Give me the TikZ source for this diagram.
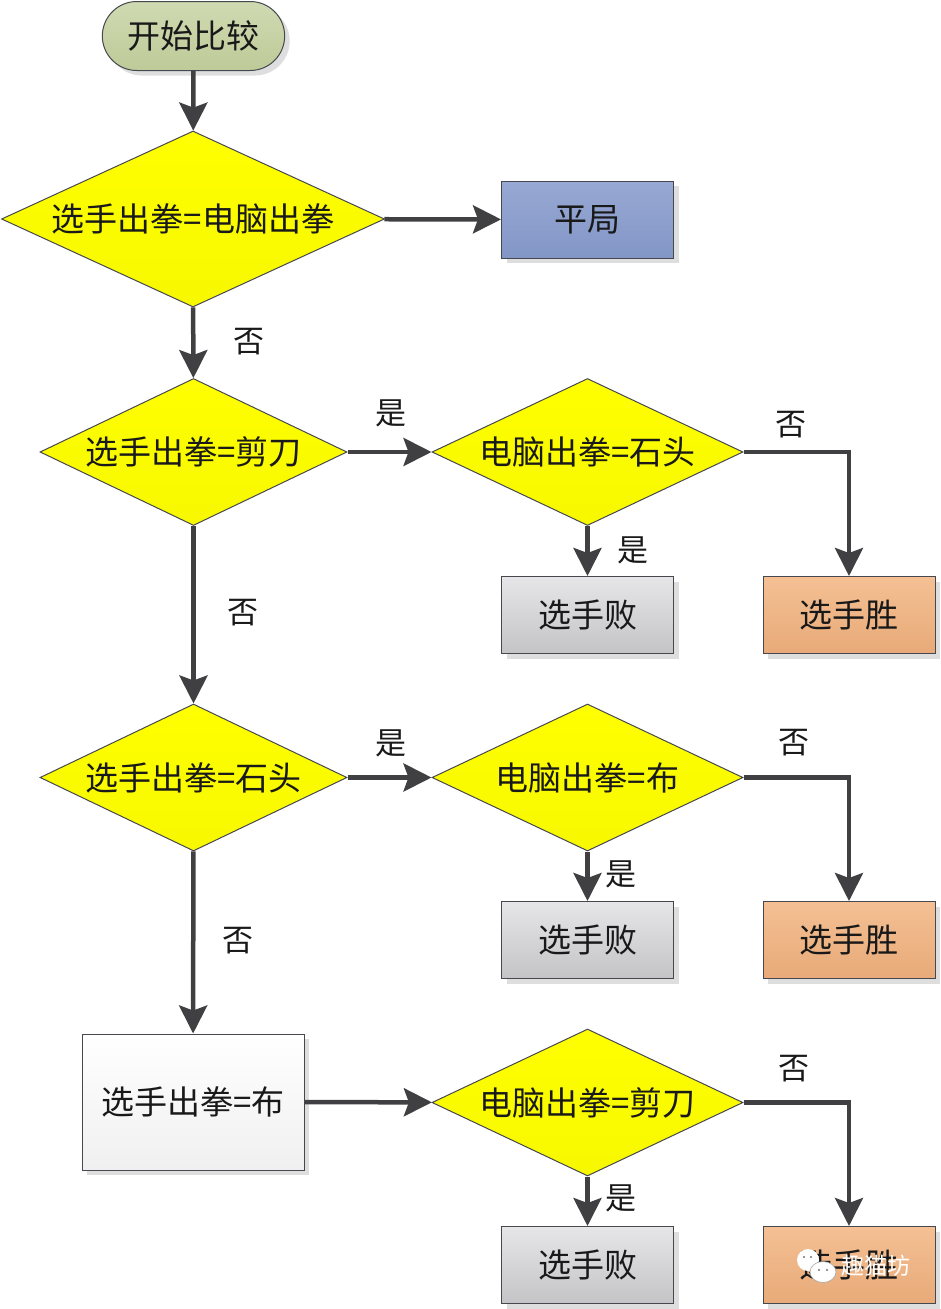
\documentclass[tikz,border=0pt]{standalone}
\usepackage{fontspec}
\setmainfont{Noto Sans CJK SC}
\usetikzlibrary{arrows.meta,shapes.geometric,shapes.misc,shadows}
\definecolor{cmpline}{RGB}{64,64,66}
\definecolor{cmpedge}{RGB}{70,72,80}
\definecolor{cmpyellow}{RGB}{255,255,0}
\definecolor{cmpoliveA}{RGB}{208,218,178}
\definecolor{cmpoliveB}{RGB}{190,202,152}
\definecolor{cmpblueA}{RGB}{152,168,212}
\definecolor{cmpblueB}{RGB}{130,150,198}
\definecolor{cmpgreyA}{RGB}{230,230,232}
\definecolor{cmpgreyB}{RGB}{196,196,198}
\definecolor{cmporangeA}{RGB}{244,192,148}
\definecolor{cmporangeB}{RGB}{232,170,120}
\tikzstyle{arrow} = [line width=4.5pt,-{Stealth[length=28pt,width=28pt,inset=5pt]},color=cmpline]
\tikzstyle{boxshadow} = [drop shadow={shadow xshift=5pt,shadow yshift=-5pt,fill=black!13,opacity=1}]
\tikzstyle{txt} = [font=\fontsize{33}{38}\selectfont,text=black!90]
\tikzstyle{test} = [diamond,aspect=2.2,draw=cmpedge,line width=1pt,top color=cmpyellow,bottom color=cmpyellow!97!black,inner sep=0pt,txt]
\tikzstyle{result} = [rectangle,draw=cmpedge,line width=1pt,minimum width=172pt,minimum height=77pt,boxshadow,txt]
\tikzstyle{lose} = [result,top color=cmpgreyA,bottom color=cmpgreyB]
\tikzstyle{win} = [result,top color=cmporangeA,bottom color=cmporangeB]
\tikzstyle{lbl} = [txt,font=\fontsize{31}{36}\selectfont]
\begin{document}
\begin{tikzpicture}[x=1pt,y=-1pt]
\useasboundingbox (0,0) rectangle (941,1309);

\node[rounded rectangle,draw=cmpedge,line width=1pt,minimum width=189pt,minimum height=69pt,top color=cmpoliveA,bottom color=cmpoliveB,boxshadow,txt] (start) at (193.5,36) {开始比较};

\node[test,minimum width=383pt,minimum height=176pt] (same) at (193,219) {选手出拳=电脑出拳};
\node[result,top color=cmpblueA,bottom color=cmpblueB] (draw) at (587.5,219.5) {平局};

\node[test,minimum width=307pt,minimum height=147pt] (scissors) at (193.5,452) {选手出拳=剪刀};
\node[test,minimum width=311pt,minimum height=147pt] (rock1) at (587.5,452) {电脑出拳=石头};
\node[lose] (lose1) at (587.5,615) {选手败};
\node[win] (win1) at (849,615) {选手胜};

\node[test,minimum width=307pt,minimum height=147pt] (rock) at (193.5,777.5) {选手出拳=石头};
\node[test,minimum width=311pt,minimum height=147pt] (paper1) at (587.5,777.5) {电脑出拳=布};
\node[lose] (lose2) at (587.5,940) {选手败};
\node[win] (win2) at (849,940) {选手胜};

\node[rectangle,draw=cmpedge,line width=1pt,minimum width=222pt,minimum height=136pt,top color=white,bottom color=black!6,boxshadow,txt] (paper) at (193,1102) {选手出拳=布};
\node[test,minimum width=311pt,minimum height=147pt] (scissors1) at (587.5,1102.5) {电脑出拳=剪刀};
\node[lose] (lose3) at (587.5,1265) {选手败};
\node[win] (win3) at (849,1265) {选手胜};

\draw[arrow] (start) -- (same);
\draw[arrow] (same) -- (draw);
\draw[arrow] (same) -- (scissors);
\draw[arrow] (scissors) -- (rock1);
\draw[arrow] (rock1) -- (lose1);
\draw[arrow] (rock1.east) -| (win1.north);
\draw[arrow] (scissors) -- (rock);
\draw[arrow] (rock) -- (paper1);
\draw[arrow] (paper1) -- (lose2);
\draw[arrow] (paper1.east) -| (win2.north);
\draw[arrow] (rock) -- (paper);
\draw[arrow] (paper) -- (scissors1);
\draw[arrow] (scissors1) -- (lose3);
\draw[arrow] (scissors1.east) -| (win3.north);

\node[lbl] (no1) at (249,342) {否};
\node[lbl] (yes1) at (391,413) {是};
\node[lbl] (no2) at (791,425) {否};
\node[lbl] (yes2) at (633,550) {是};
\node[lbl] (no3) at (243,613) {否};
\node[lbl] (yes3) at (391,743) {是};
\node[lbl] (no4) at (794,743) {否};
\node[lbl] (yes4) at (621,874) {是};
\node[lbl] (no5) at (238,941) {否};
\node[lbl] (no6) at (794,1069) {否};
\node[lbl] (yes6) at (621,1198) {是};

\fill[white] (808,1260) ellipse (11 and 11);
\fill[white,draw=black!35,line width=0.6pt] (823,1272) ellipse (13 and 10.5);
\fill[black!55] (819,1270) circle (1.2) (827,1270) circle (1.2) (804,1257) circle (1.2) (811,1257) circle (1.2);
\node[text=white,font=\fontsize{23}{26}\selectfont,inner sep=0pt] (mark) at (876,1266) {趣猫坊};
\end{tikzpicture}
\end{document}
